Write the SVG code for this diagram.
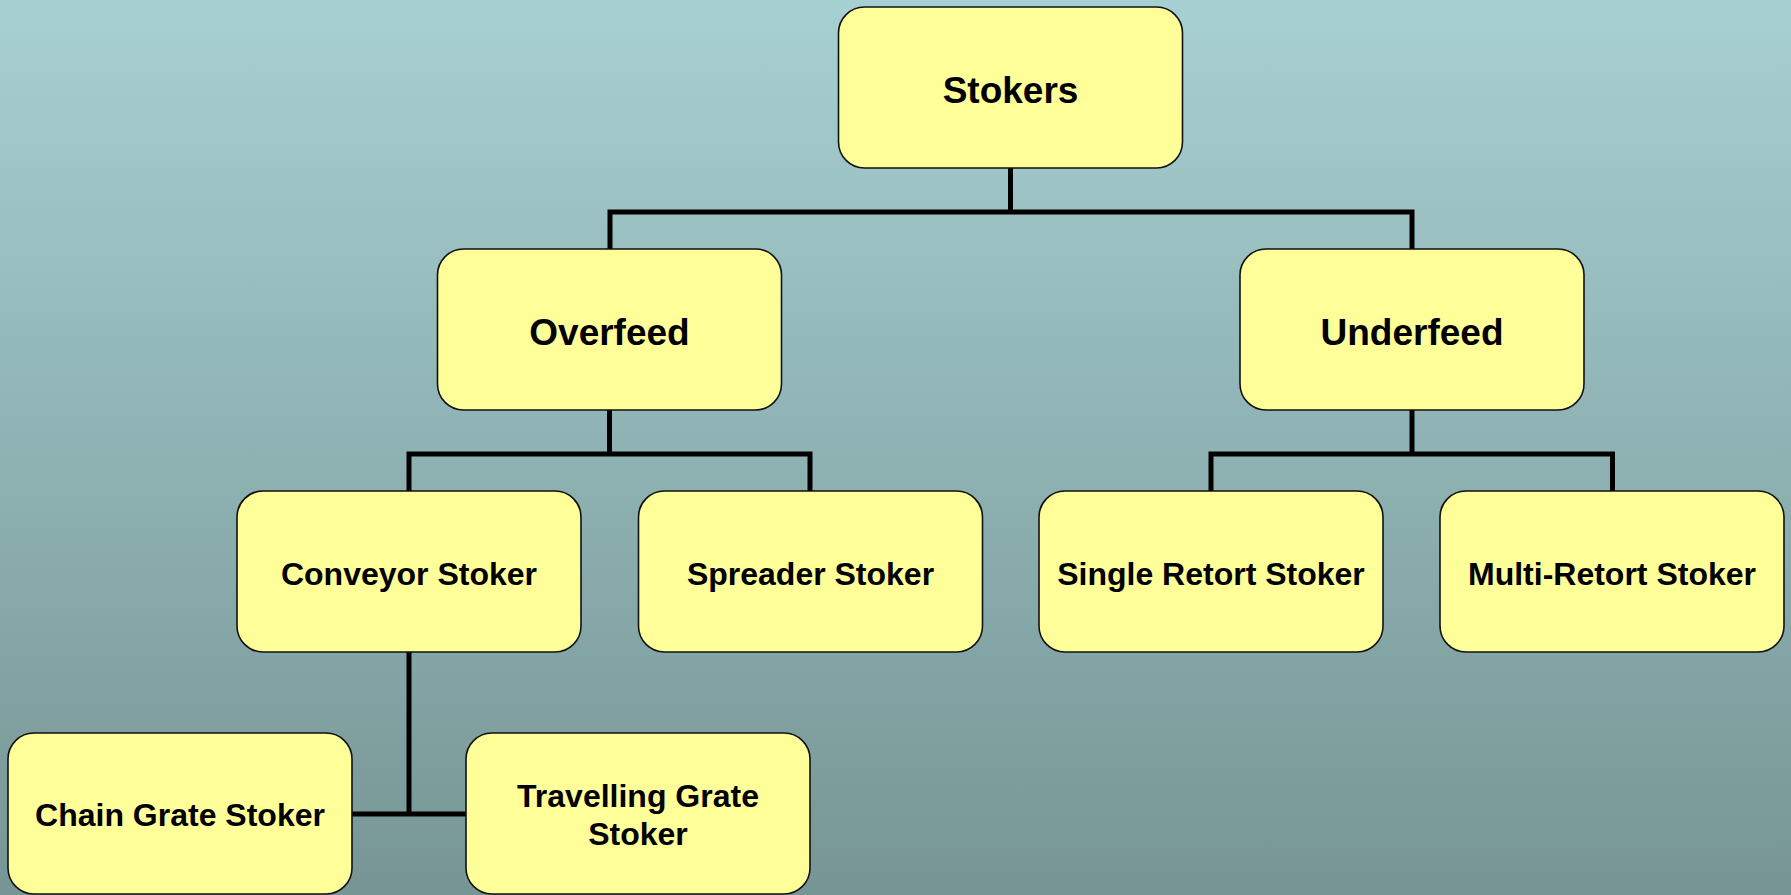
<svg xmlns="http://www.w3.org/2000/svg" width="1791" height="895" viewBox="0 0 1791 895">
<defs>
<linearGradient id="bg" x1="0" y1="0" x2="0" y2="1">
<stop offset="0" stop-color="#A7D0D2"/>
<stop offset="1" stop-color="#779595"/>
</linearGradient>
<style>
.box{fill:#FFFF99;stroke:#111;stroke-width:1.6}
.t{font-family:"Liberation Sans",Arial,sans-serif;font-weight:bold;fill:#000;text-anchor:middle}
.big{font-size:37px}
.sm{font-size:32px}
.conn{fill:none;stroke:#000;stroke-width:5;stroke-linejoin:miter;stroke-linecap:butt}
</style>
</defs>
<rect width="1791" height="895" fill="url(#bg)"/>
<g id="connectors">
<path class="conn" d="M1010.5 168V212M610 251V212H1412V251"/>
<path class="conn" d="M609.5 410V454M409 492V454H810V492"/>
<path class="conn" d="M1412 410V454M1211 492V454H1612.5V492"/>
<path class="conn" d="M409 652V814M352 814H466"/>
</g>
<g id="stokers"><rect class="box" x="838.5" y="7" width="344" height="161" rx="26"/><text class="t big" x="1010.5" y="103">Stokers</text></g>
<g id="overfeed"><rect class="box" x="437.5" y="249" width="344" height="161" rx="26"/><text class="t big" x="609.5" y="345">Overfeed</text></g>
<g id="underfeed"><rect class="box" x="1240" y="249" width="344" height="161" rx="26"/><text class="t big" x="1412" y="345">Underfeed</text></g>
<g id="conveyor"><rect class="box" x="237" y="491" width="344" height="161" rx="26"/><text class="t sm" x="409" y="585">Conveyor Stoker</text></g>
<g id="spreader"><rect class="box" x="638.5" y="491" width="344" height="161" rx="26"/><text class="t sm" x="810.5" y="585">Spreader Stoker</text></g>
<g id="single"><rect class="box" x="1039" y="491" width="344" height="161" rx="26"/><text class="t sm" x="1211" y="585">Single Retort Stoker</text></g>
<g id="multi"><rect class="box" x="1440" y="491" width="344" height="161" rx="26"/><text class="t sm" x="1612" y="585">Multi-Retort Stoker</text></g>
<g id="chain"><rect class="box" x="8" y="733" width="344" height="161" rx="26"/><text class="t sm" x="180" y="826">Chain Grate Stoker</text></g>
<g id="travelling"><rect class="box" x="466" y="733" width="344" height="161" rx="26"/><text class="t sm" x="638" y="807">Travelling Grate</text><text class="t sm" x="638" y="845">Stoker</text></g>
</svg>
